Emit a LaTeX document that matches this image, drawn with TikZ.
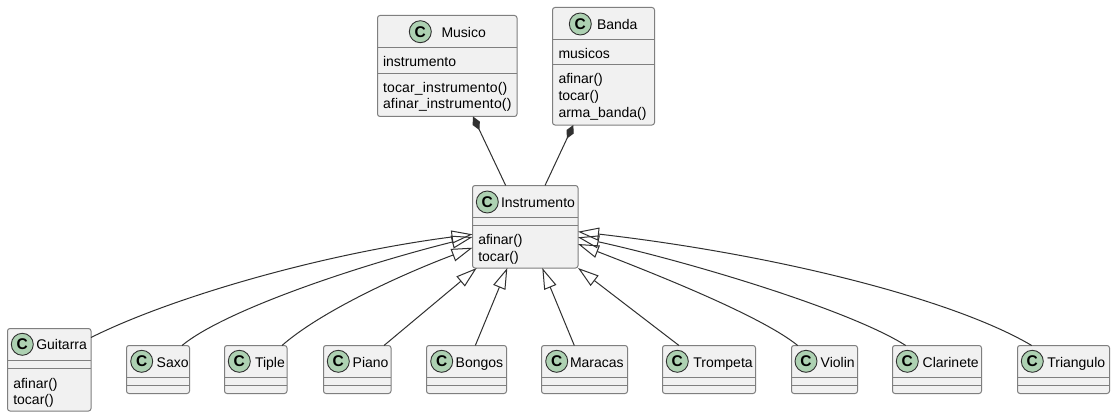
\documentclass[tikz,border=0pt]{standalone}
\usepackage{fontspec}
\setmainfont{Liberation Sans}
\usetikzlibrary{arrows.meta}
\definecolor{boxfill}{HTML}{F1F1F1}
\definecolor{boxline}{HTML}{7F7F7F}
\definecolor{iconfill}{HTML}{ADD1B2}
\definecolor{edgecol}{HTML}{303030}
\tikzset{
  klassbox/.style={draw=boxline,fill=boxfill,line width=1pt,rounded corners=2.5pt,inner sep=0pt,outer sep=0pt},
  sepline/.style={draw=boxline,line width=1pt},
  icon/.style={circle,draw=edgecol,fill=iconfill,line width=0.9pt,minimum size=22pt,inner sep=0pt,font=\fontsize{15.5}{15.5}\selectfont\bfseries},
  label/.style={anchor=base west,inner sep=0pt,outer sep=0pt,font=\fontsize{14}{16}\selectfont},
  extends/.style={draw=edgecol,line width=1pt,-{Triangle[open,length=21pt,width=13pt]}},
  composes/.style={draw=edgecol,line width=1pt,{Diamond[length=15pt,width=8pt,fill=edgecol]}-},
}
% name, x1, y1, x2, y2, title, title x, title baseline
\newcommand{\klass}[8]{%
  \node[klassbox,minimum width={(#4-#2)*1pt},minimum height={(#5-#3)*1pt}] (#1) at ({(#2+#4)/2},{(#3+#5)/2}) {};
  \node[label] (#1title) at (#7,#8+0.4) {#6};
}
\newcommand{\seps}[4]{% x1,x2,y1,y2
  \draw[sepline] (#1,#3) -- (#2,#3);
  \draw[sepline] (#1,#4) -- (#2,#4);
}
\begin{document}
\begin{tikzpicture}[x=1pt,y=-1pt]
\useasboundingbox[fill=white] (0,0) rectangle (1115,417);

% classes
\klass{musico}{377.5}{15.5}{517}{116.5}{Musico}{441.5}{36.7}
\seps{377.5}{517}{47.5}{73.5}
\node[icon] (musicoicon) at (420.3,31.7) {C};
\node[label] (m1) at (383,66.4) {instrumento};
\node[label] (m2) at (383,92.1) {\addfontfeature{LetterSpace=1.2}tocar\_instrumento()};
\node[label] (m3) at (383,108.4) {\addfontfeature{LetterSpace=1.2}afinar\_instrumento()};

\klass{banda}{552.5}{7.5}{654.5}{125}{Banda}{597}{29}
\seps{552.5}{654.5}{39.5}{64.5}
\node[icon] (bandaicon) at (580.3,24) {C};
\node[label] (b1) at (558.5,58.7) {musicos};
\node[label] (b2) at (558.5,83.7) {afinar()};
\node[label] (b3) at (558.5,100.4) {tocar()};
\node[label] (b4) at (558.5,117.4) {arma\_banda()};

\klass{inst}{472.5}{185.5}{578}{268}{Instrumento}{501}{206.7}
\seps{472.5}{578}{217.5}{225.5}
\node[icon] (insticon) at (487.3,202) {C};
\node[label] (i1) at (478.3,244.7) {afinar()};
\node[label] (i2) at (478.3,261.1) {tocar()};

\klass{gui}{7.5}{328.5}{91}{411}{Guitarra}{36.3}{349.3}
\seps{7.5}{91}{360.5}{368.5}
\node[icon] (guiicon) at (22.3,344.3) {C};
\node[label] (g1) at (13.3,388.1) {afinar()};
\node[label] (g2) at (13.3,404.7) {tocar()};

\klass{saxo}{126.5}{345.5}{189.5}{393.5}{Saxo}{156.7}{366.7}
\seps{126.5}{189.5}{377.5}{385.5}
\node[icon] (saxoicon) at (141.7,361.3) {C};

\klass{tiple}{224.5}{345.5}{287}{393.5}{Tiple}{255}{366.7}
\seps{224.5}{287}{377.5}{385.5}
\node[icon] (tipleicon) at (239.3,361.3) {C};

\klass{piano}{323.5}{345.5}{391}{393.5}{Piano}{352.7}{366.7}
\seps{323.5}{391}{377.5}{385.5}
\node[icon] (pianoicon) at (338.3,361.3) {C};

\klass{bongos}{426.5}{345.5}{506.5}{393.5}{Bongos}{455.7}{366.7}
\seps{426.5}{506.5}{377.5}{385.5}
\node[icon] (bongosicon) at (441.7,361.3) {C};

\klass{maracas}{541.5}{345.5}{627.5}{393.5}{Maracas}{570}{366.7}
\seps{541.5}{627.5}{377.5}{385.5}
\node[icon] (maracasicon) at (556.7,361.3) {C};

\klass{trompeta}{662.5}{345.5}{755.5}{393.5}{Trompeta}{693.3}{366.7}
\seps{662.5}{755.5}{377.5}{385.5}
\node[icon] (trompetaicon) at (677.3,361.3) {C};

\klass{violin}{791.5}{345.5}{857.5}{393.5}{Violin}{820.7}{366.7}
\seps{791.5}{857.5}{377.5}{385.5}
\node[icon] (violinicon) at (806,361.3) {C};

\klass{clarinete}{892.5}{345.5}{981.5}{393.5}{Clarinete}{922.7}{366.7}
\seps{892.5}{981.5}{377.5}{385.5}
\node[icon] (clarineteicon) at (907.3,361.3) {C};

\klass{triangulo}{1017.5}{345.5}{1109.5}{393.5}{Triangulo}{1047.3}{366.7}
\seps{1017.5}{1109.5}{377.5}{385.5}
\node[icon] (trianguloicon) at (1032.3,361.3) {C};

% composition
\draw[composes] ([xshift=25.75pt]musico.south) -- ([xshift=-19.55pt]inst.north);
\draw[composes] ([xshift=-30.2pt]banda.south) -- ([xshift=19.75pt]inst.north);

% inheritance
\draw[extends] ([yshift=32.25pt]gui.east) .. controls (170,298) and (320,254) .. ([yshift=-7.55pt]inst.west);
\draw[extends] ([xshift=24pt]saxo.north) .. controls (225,310) and (360,265) .. ([yshift=-10.25pt]inst.west);
\draw[extends] ([xshift=26.25pt]tiple.north) .. controls (320,312) and (400,275) .. ([yshift=-20.95pt]inst.west);
\draw[extends] ([xshift=26.75pt]piano.north) -- ([xshift=-48.55pt]inst.south);
\draw[extends] ([xshift=8.8pt]bongos.north) -- ([xshift=-17.95pt]inst.south);
\draw[extends] ([xshift=-10.2pt]maracas.north) -- ([xshift=17.05pt]inst.south);
\draw[extends] ([xshift=-30pt]trompeta.north) -- ([xshift=52.75pt]inst.south);
\draw[extends] ([xshift=-26.8pt]violin.north) .. controls (760,315) and (650,272) .. ([yshift=-17.25pt]inst.east);
\draw[extends] ([xshift=-31.3pt]clarinete.north) .. controls (850,310) and (690,262) .. ([yshift=-10.55pt]inst.east);
\draw[extends] ([xshift=-31.8pt]triangulo.north) .. controls (955,300) and (780,255) .. ([yshift=-4.95pt]inst.east);
\end{tikzpicture}
\end{document}
